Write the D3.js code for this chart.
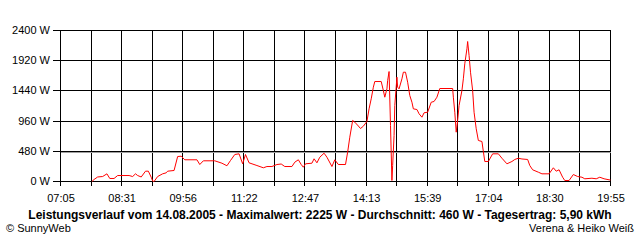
<!DOCTYPE html>
<html>
<head>
<meta charset="utf-8">
<script src="https://cdn.jsdelivr.net/npm/d3@7"></script>
<style>
  body { margin: 0; background: #fff; }
  svg { display: block; font-family: 'Liberation Sans', Arial, sans-serif; }
</style>
</head>
<body>
<div id="app"></div>
<script>
// readings (time of day, watts)
const times = ['07:49','07:52','07:57','08:04','08:10','08:14','08:20','08:25','08:41','08:46',
  '08:50','08:53','08:58','09:04','09:08','09:12','09:14','09:16','09:21','09:28',
  '09:33','09:35','09:44','09:49','09:54','09:59','10:16','10:20','10:25','10:41',
  '10:51','10:58','11:03','11:09','11:15','11:20','11:24','11:29','11:40','11:49',
  '11:54','12:01','12:08','12:14','12:19','12:29','12:33','12:38','12:42','12:45',
  '12:48','12:57','13:00','13:04','13:08','13:14','13:18','13:25','13:29','13:34',
  '13:44','13:47','13:50','13:54','13:57','14:02','14:05','14:09','14:14','14:17',
  '14:20','14:23','14:25','14:34','14:37','14:39','14:42','14:43','14:45','14:47',
  '14:49','14:50','14:52','14:53','14:56','14:57','14:59','15:03','15:05','15:08',
  '15:11','15:14','15:17','15:19','15:24','15:27','15:31','15:34','15:39','15:44',
  '15:48','15:52','15:56','16:14','16:15','16:17','16:19','16:21','16:23','16:27',
  '16:29','16:31','16:34','16:35','16:37','16:39','16:42','16:44','16:47','16:50',
  '16:55','16:57','16:59','17:04','17:10','17:18','17:23','17:30','17:37','17:41',
  '17:46','17:51','17:59','18:02','18:06','18:14','18:19','18:29','18:35','18:39',
  '18:43','18:48','18:51','18:57','19:03','19:09','19:15','19:19','19:29','19:35',
  '19:40','19:46','19:53','19:55']
const watts = [0,32,72,79,122,48,48,95,95,79,
  122,95,72,164,164,68,8,0,79,122,
  138,164,175,397,402,345,345,270,329,329,
  291,250,334,429,440,281,429,297,254,218,
  238,238,270,278,238,238,307,345,270,227,
  281,291,361,297,386,450,386,238,345,270,
  270,466,704,970,943,882,842,879,954,1155,
  1314,1499,1589,1589,1446,1340,1473,1605,1748,890,
  16,254,731,1208,1658,1499,1473,1632,1737,1737,
  1578,1367,1260,1155,1144,1076,1022,1092,1101,1260,
  1272,1340,1478,1478,1340,1101,784,970,1208,1446,
  1632,1871,2109,2225,2003,1737,1446,1101,838,652,
  636,477,318,318,440,440,370,281,318,350,
  370,358,350,254,186,148,122,122,218,164,
  186,68,16,16,111,79,68,43,52,43,
  68,43,27,24]

const xTickLabels = ['07:05','08:31','09:56','11:22','12:47','14:13','15:39','17:04','18:30','19:55']
const yTicks = [0, 480, 960, 1440, 1920, 2400]
const average = 460
const title = 'Leistungsverlauf vom 14.08.2005 - Maximalwert: 2225 W - Durchschnitt: 460 W - Tagesertrag: 5,90 kWh'
const footLeft = '\u00A9 SunnyWeb'
const footRight = 'Verena & Heiko Wei\u00DF'

const width = 640, height = 240
const toMin = s => { const [h, m] = s.split(':').map(Number); return h * 60 + m }

const tStart = toMin(xTickLabels[0]), tEnd = toMin(xTickLabels[xTickLabels.length - 1])
const x = d3.scaleLinear().domain([tStart, tEnd]).range([60, 610])
const y = d3.scaleLinear().domain([0, 2400]).range([181, 30])
const px = v => Math.round(v) + 0.5

const data = times.map((t, i) => ({ t: toMin(t), w: watts[i] }))

const svg = d3.select('#app').append('svg')
  .attr('width', width).attr('height', height)

// vertical grid, two per labelled tick
const grid = d3.range(19).map(i => tStart + (tEnd - tStart) * i / 18)

let g = svg.append('g').attr('shape-rendering', 'crispEdges')
g.selectAll('line.v').data(grid).enter().append('line')
  .attr('x1', d => px(x(d))).attr('x2', d => px(x(d)))
  .attr('y1', y(2400)).attr('y2', y(0) + 5)
  .attr('stroke', '#000')
g.selectAll('line.h').data(yTicks).enter().append('line')
  .attr('x1', x.range()[0] - 7).attr('x2', px(x.range()[1]))
  .attr('y1', d => px(y(d))).attr('y2', d => px(y(d)))
  .attr('stroke', '#000')

// average line
g.append('line')
  .attr('x1', px(x.range()[0])).attr('x2', px(x.range()[1]))
  .attr('y1', px(y(average))).attr('y2', px(y(average)))
  .attr('stroke', '#a0a0a0')

svg.append('path')
  .datum(data)
  .attr('fill', 'none')
  .attr('stroke', '#ff0000')
  .attr('stroke-width', 1)
  .attr('d', d3.line().x(d => x(d.t) + 0.5).y(d => y(d.w) + 0.5))

svg.append('g').selectAll('text').data(yTicks).enter().append('text')
  .attr('x', 50).attr('y', d => y(d) + 4)
  .attr('text-anchor', 'end')
  .attr('font-size', 11)
  .text(d => d + ' W')

svg.append('g').selectAll('text').data(xTickLabels).enter().append('text')
  .attr('x', (d, i) => x(grid[i * 2]) + 1)
  .attr('y', 202)
  .attr('text-anchor', 'middle')
  .attr('font-size', 11)
  .text(d => d)

svg.append('text')
  .attr('x', 320).attr('y', 219)
  .attr('text-anchor', 'middle')
  .attr('font-size', 12).attr('font-weight', 'bold')
  .text(title)

svg.append('text')
  .attr('x', 6).attr('y', 232)
  .attr('font-size', 11)
  .text(footLeft)

svg.append('text')
  .attr('x', 634).attr('y', 232)
  .attr('text-anchor', 'end')
  .attr('font-size', 11)
  .text(footRight)
</script>
</body>
</html>
